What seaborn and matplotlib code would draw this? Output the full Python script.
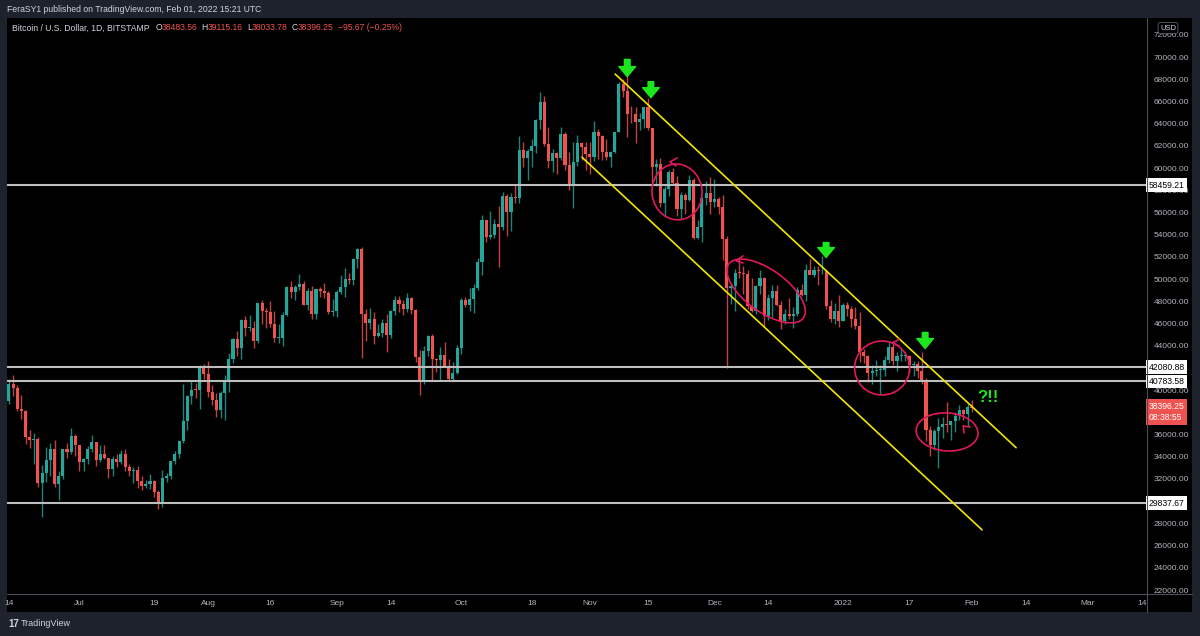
import numpy as np
import pandas as pd
import matplotlib
matplotlib.use("Agg")
import matplotlib.pyplot as plt
import matplotlib.dates as mdates
import matplotlib.transforms as mtransforms
from matplotlib.patches import Ellipse, Rectangle
from matplotlib.lines import Line2D
import seaborn as sns

# ---------------- data (BTC/USD daily, Bitstamp) ----------------
start_date = "2021-06-13"
opens = [
    35520, 39020, 40530, 40170, 38340, 38090, 35820, 35490, 35600, 31640, 32510, 33680, 34660, 31580, 32240, 34690, 34450, 35890,
    35040, 33520, 33800, 34690, 35290, 33690, 34230, 33860, 32880, 33800, 33510, 34260, 33100, 32730, 32820, 31780, 31400, 31520, 31780, 30830, 29790, 32130, 32290, 33600, 34270, 35390, 37250, 39480, 40010, 40000, 42210,
    41490, 39850, 39150, 38190, 39740, 40870, 42840, 44600, 43800, 46300, 45580, 45580, 44420, 47830, 47100, 47030, 45950, 44690, 44740, 46750, 49330, 48880, 49300, 49540, 47700, 48980, 46850, 49080, 48910, 48800, 47020,
    47140, 48820, 49300, 50000, 49940, 51790, 52700, 46860, 46070, 46400, 44850, 45150, 46050, 44950, 47110, 48150, 47750, 47300, 48290, 47250, 43000, 40700, 43550, 44880, 42820, 42700, 43190, 42170, 41030, 41520,
    43800, 48150, 47680, 48230, 49250, 51510, 55340, 53800, 53950, 54960, 54660, 57480, 56020, 57390, 57350, 61680, 60880, 61520, 62040, 64300, 66000, 62210, 60690, 61340, 60880, 63080, 60330, 58450, 60600, 62250, 61880,
    61320, 61000, 63250, 62940, 61450, 61000, 61500, 63300, 67550, 66950, 64900, 64850, 64150, 64400, 65500, 63600, 60100, 60350, 56900, 58100, 59700, 58700, 56300, 57550, 57150, 58950, 53750, 54700, 57300, 57800,
    56950, 57200, 56500, 53600, 49200, 49400, 50600, 50550, 50500, 47550, 47150, 49400, 50100, 46700, 48350, 48900, 47650, 46200, 46850, 46700, 46900, 49000, 48600, 50800, 50400, 50800, 50700, 50700, 47550, 46450, 47100,
    46200, 47700, 47300, 46450, 45800, 43450, 43100, 41550, 41700, 41850, 41850, 42750, 43900, 42600, 43100, 43100, 43100, 42250, 42400, 41700, 40700, 36450, 35050, 36300, 36700, 36950, 36850, 37200, 37700, 38200, 37900,
    38483.56,
]
highs = [
    39380, 41000, 41330, 40500, 39560, 38200, 36440, 36110, 35750, 33300, 34880, 35200, 35480, 32690, 34700, 35280, 36600, 36070,
    35040, 33930, 34940, 35960, 35300, 35100, 35070, 33910, 34080, 34260, 34600, 34670, 33330, 33100, 33180, 32250, 31940, 32430, 31890, 31050, 32830, 32570, 33640, 34500, 35410, 40550, 39530, 40900, 40650, 42300, 42400,
    42600, 40450, 39760, 39970, 41400, 43390, 44700, 45300, 46450, 46680, 46780, 46230, 47880, 48150, 47360, 48050, 47150, 46000, 47000, 49360, 49800, 49490, 50500, 49860, 49250, 49360, 49160, 49310, 49640, 48900, 48250,
    49000, 50400, 51050, 50550, 51880, 52800, 52920, 47350, 47400, 47030, 45990, 46450, 46880, 47250, 48480, 48500, 48160, 48800, 48370, 47350, 43620, 44000, 44950, 45100, 42940, 43900, 44330, 42780, 42580, 44100,
    48300, 48370, 49250, 49530, 51870, 55750, 55340, 56100, 55450, 56550, 57840, 57650, 57760, 58530, 62900, 62350, 61720, 62600, 64450, 66900, 66500, 63730, 61740, 61440, 63720, 63300, 61480, 62400, 62950, 62330, 62400,
    62380, 64250, 63490, 62950, 62600, 61550, 63300, 67750, 68000, 68900, 65600, 65480, 64950, 65550, 66350, 63600, 60800, 60950, 58400, 59850, 60000, 59300, 57850, 57800, 59400, 59150, 55300, 57400, 58850, 59200,
    59050, 57400, 57600, 53850, 49700, 50950, 51950, 51200, 50800, 50100, 49500, 50800, 50200, 48700, 49500, 49450, 48000, 47350, 48350, 47500, 49300, 49550, 51350, 51850, 51150, 51200, 52050, 50700, 48100, 47900, 48550,
    47900, 47950, 47550, 47500, 47050, 43750, 43150, 42300, 42750, 42250, 43100, 44350, 44450, 43450, 43800, 43450, 43200, 42650, 42600, 43450, 41100, 36800, 36500, 37500, 37550, 38900, 37250, 38000, 38700, 38350, 38750,
    39115.16,
]
lows = [
    34760, 38750, 39510, 38120, 37420, 35130, 34830, 33360, 31300, 28600, 31720, 32300, 31280, 30150, 32030, 33900, 34220, 34060,
    32710, 32720, 33330, 34450, 33170, 33530, 33790, 32100, 32260, 33040, 33330, 32680, 32240, 31600, 31150, 31040, 31170, 31110, 30420, 29300, 29480, 31720, 31980, 33330, 33870, 35260, 36420, 38790, 39270, 38340, 41020,
    39420, 38690, 37620, 37500, 37350, 39880, 42450, 43100, 42830, 44900, 45350, 43800, 44250, 45970, 45600, 45700, 44380, 44250, 43970, 46650, 48300, 48100, 49050, 47670, 47200, 46400, 46380, 48400, 48340, 46900, 46710,
    46560, 48630, 48400, 49550, 49500, 50970, 42900, 44420, 45540, 44200, 44750, 44760, 43420, 44700, 46770, 47060, 46800, 47080, 46860, 42500, 39600, 40560, 43100, 40800, 41670, 40800, 42130, 40950, 40800, 41420,
    43300, 47450, 47130, 46950, 49070, 50390, 53380, 53640, 53700, 51100, 54430, 53880, 54300, 56870, 56850, 60150, 58980, 60100, 61400, 63500, 62000, 60000, 59700, 59510, 60700, 59870, 58000, 56450, 60200, 60730, 59800,
    59450, 60650, 60850, 60700, 60740, 60100, 61350, 63250, 66380, 62800, 64100, 62300, 63400, 63600, 63450, 58600, 58400, 56500, 55600, 57450, 58500, 55650, 55400, 55900, 57000, 53600, 53650, 53350, 56700, 55900,
    56500, 55850, 51700, 42000, 47800, 47100, 50100, 48700, 47350, 47000, 46850, 48650, 45700, 46300, 46550, 47550, 45500, 45950, 46450, 45600, 46650, 48450, 48050, 50450, 50200, 49500, 50450, 47350, 46100, 46000, 45700,
    46200, 46700, 45700, 45500, 42550, 42450, 40700, 40550, 41250, 39700, 41300, 42450, 42300, 41750, 42600, 42600, 41550, 41250, 41100, 40600, 35450, 34050, 34650, 32950, 35700, 36250, 35500, 36200, 37350, 37350, 36650,
    38033.78,
]
closes = [
    39020, 40530, 40170, 38340, 38090, 35820, 35490, 35600, 31640, 32510, 33680, 34660, 31580, 32240, 34690, 34450, 35890, 35040,
    33520, 33800, 34690, 35290, 33690, 34230, 33860, 32880, 33800, 33510, 34260, 33100, 32730, 32820, 31780, 31400, 31520, 31780, 30830, 29790, 32130, 32290, 33600, 34270, 35390, 37250, 39480, 40010, 40000, 42210, 41490,
    39850, 39150, 38190, 39740, 40870, 42840, 44600, 43800, 46300, 45580, 45580, 44420, 47830, 47100, 47030, 45950, 44690, 44740, 46750, 49330, 48880, 49300, 49540, 47700, 48980, 46850, 49080, 48910, 48800, 47020, 47140,
    48820, 49300, 50000, 49940, 51790, 52700, 46860, 46070, 46400, 44850, 45150, 46050, 44950, 47110, 48150, 47750, 47300, 48290, 47250, 43000, 40700, 43550, 44880, 42820, 42700, 43190, 42170, 41030, 41520, 43800,
    48150, 47680, 48230, 49250, 51510, 55340, 53800, 53950, 54960, 54660, 57480, 56020, 57390, 57350, 61680, 60880, 61520, 62040, 64300, 66000, 62210, 60690, 61340, 60880, 63080, 60330, 58450, 60600, 62250, 61880, 61320,
    61000, 63250, 62940, 61450, 61000, 61500, 63300, 67550, 66950, 64900, 64850, 64150, 64400, 65500, 63600, 60100, 60350, 56900, 58100, 59700, 58700, 56300, 57550, 57150, 58950, 53750, 54700, 57300, 57800, 56950,
    57200, 56500, 53600, 49200, 49400, 50600, 50550, 50500, 47550, 47150, 49400, 50100, 46700, 48350, 48900, 47650, 46200, 46850, 46700, 46900, 49000, 48600, 50800, 50400, 50800, 50700, 50700, 47550, 46450, 47100, 46200,
    47700, 47300, 46450, 45800, 43450, 43100, 41550, 41700, 41850, 41850, 42750, 43900, 42600, 43100, 43100, 43100, 42250, 42400, 41700, 40700, 36450, 35050, 36300, 36700, 36950, 36850, 37200, 37700, 38200, 37900, 38480,
    38396.25,
]

level_prices = [58459.21, 42080.88, 40783.58, 29837.67]
last_price = 38396.25
countdown = "08:38:55"

upper_channel_dates = ["2021-11-07 02:00", "2022-02-11 17:00"]
upper_channel_prices = [68480, 34820]
lower_channel_dates = ["2021-10-30 02:00", "2022-02-03 12:00"]
lower_channel_prices = [60990, 27420]

arrow_dates = ["2021-11-10 00:00", "2021-11-15 17:00", "2021-12-27 22:00", "2022-01-20 19:00"]
arrow_tops = [69800, 67800, 53300, 45200]
arrow_tips = [68250, 66350, 51950, 43750]

circle_dates = ["2021-11-22 00:00", "2021-12-13 11:00", "2022-01-10 10:00", "2022-01-26 02:00"]
circle_prices = [57860, 48940, 42000, 36240]

note_date = "2022-02-04 22:00"
note_price = 39300
note_text = "?!!"

tick_dates = ["2021-06-14", "2021-07-01", "2021-07-19", "2021-08-01", "2021-08-16", "2021-09-01",
              "2021-09-14", "2021-10-01", "2021-10-18", "2021-11-01", "2021-11-15", "2021-12-01",
              "2021-12-14", "2022-01-01", "2022-01-17", "2022-02-01", "2022-02-14", "2022-03-01", "2022-03-14"]
tick_labels = ["14", "Jul", "19", "Aug", "16", "Sep", "14", "Oct", "18", "Nov", "15", "Dec",
               "14", "2022", "17", "Feb", "14", "Mar", "14"]
price_ticks = list(range(22000, 72001, 2000))
# price-scale ticks hidden behind the level / last-price labels (as on the reference)
covered_ticks = [30000, 38000, 42000]

view_start = "2021-06-13 13:00"
view_end = "2022-03-15 06:00"
price_range = (21640, 73530)

# ---------------- styling ----------------
UP = "#26a69a"
DOWN = "#ef5350"
BG = "#1e222d"
TXT = "#d1d4dc"
TICK = "#b2b5be"

sns.set_theme(style="dark", rc={"axes.facecolor": "black", "figure.facecolor": BG})
plt.rcParams["font.family"] = ["Liberation Sans", "DejaVu Sans"]

W, H = 1200, 636
fig = plt.figure(figsize=(W / 100, H / 100), dpi=100)
fig.patch.set_facecolor(BG)

def fx(px):
    return px / W

def fy(py):
    return 1 - py / H

# black chart panel
fig.add_artist(Rectangle((fx(7), fy(612)), fx(1192) - fx(7), fy(18) - fy(612),
                         transform=fig.transFigure, facecolor="black", edgecolor="none", zorder=0))

ax = fig.add_axes([fx(7), fy(594), fx(1147) - fx(7), fy(18) - fy(594)])
ax.set_facecolor("black")
for s in ax.spines.values():
    s.set_visible(False)
ax.grid(False)

df = pd.DataFrame({"date": pd.date_range(start_date, periods=len(closes), freq="D"),
                   "open": opens, "high": highs, "low": lows, "close": closes})
x = mdates.date2num(df["date"])
up = df["close"] >= df["open"]
cols = np.where(up, UP, DOWN)
ax.vlines(x, df["low"], df["high"], colors=cols, lw=1.0, alpha=0.8, zorder=2)
body_bottom = np.minimum(df["open"], df["close"])
body_h = np.maximum(np.abs(df["close"] - df["open"]), 70)
ax.bar(x, body_h, bottom=body_bottom, width=0.74, color=cols, linewidth=0, zorder=3)

# horizontal levels
for lv in level_prices:
    ax.axhline(lv, color="#bdbdbd", lw=1.5, zorder=4)

# channel lines (seaborn)
ch = pd.DataFrame({
    "date": pd.to_datetime(upper_channel_dates + lower_channel_dates),
    "price": upper_channel_prices + lower_channel_prices,
    "line": ["upper", "upper", "lower", "lower"],
})
sns.lineplot(data=ch, x="date", y="price", units="line", estimator=None, color="#f2e600",
             lw=1.2, ax=ax, legend=False, zorder=5)

# green arrows
for d, top, tip in zip(arrow_dates, arrow_tops, arrow_tips):
    xd = mdates.date2num(pd.Timestamp(d))
    ax.annotate("", xy=(xd, tip), xytext=(xd, top),
                arrowprops=dict(arrowstyle="simple,head_width=1.0,head_length=0.6,tail_width=0.34",
                                color="#1ee61e", shrinkA=0, shrinkB=0, mutation_scale=12),
                zorder=7, annotation_clip=False)

# pink hand-drawn ellipses (sizes in pixels)
PINK = "#e0185e"
ell_shapes = [(50, 56, 8), (92, 42, -36), (55, 54, 0), (62, 38, -4)]
hooks = [
    [(-7 + 7, 30 + 4), (-7, 30), (-7 + 6, 30 - 4)],
    [(-30 + 7, 30 + 5), (-30, 30), (-30 + 7, 30 - 2)],
    [(11 + 6, 25 + 4), (11, 25), (11 + 6, 25 - 3)],
    [(16 + 1, 6 - 7), (16, 6), (16 + 7, 6 - 1)],
]
for d, p, (w, h, a), hk in zip(circle_dates, circle_prices, ell_shapes, hooks):
    xd = mdates.date2num(pd.Timestamp(d))
    tr = fig.dpi_scale_trans + mtransforms.ScaledTranslation(xd, p, ax.transData)
    ax.add_artist(Ellipse((0, 0), w / 100, h / 100, angle=a, transform=tr, fill=False,
                          edgecolor=PINK, lw=1.2, zorder=6))
    hx = [q[0] / 100 for q in hk]
    hy = [q[1] / 100 for q in hk]
    ax.add_artist(Line2D(hx, hy, transform=tr, color=PINK, lw=1.2, zorder=6))

ax.text(mdates.date2num(pd.Timestamp(note_date)), note_price, note_text, color="#1ee61e",
        fontsize=12, fontweight="bold", ha="center", va="center", zorder=7)

# axes limits / ticks
ax.set_xlim(mdates.date2num(pd.Timestamp(view_start)), mdates.date2num(pd.Timestamp(view_end)))
ax.set_ylim(*price_range)
ax.set_xticks(mdates.date2num(pd.to_datetime(tick_dates)))
ax.set_xticklabels(tick_labels)
ax.set_yticks(price_ticks)
ax.set_yticklabels(["" if v in covered_ticks else f"{v:.2f}" for v in price_ticks])
ax.yaxis.tick_right()
ax.tick_params(axis="y", length=0, pad=5, labelsize=6, labelcolor=TICK)
ax.tick_params(axis="x", length=0, pad=4, labelsize=6, labelcolor=TICK)
ax.set_xlabel("")
ax.set_ylabel("")

# level labels on the price scale
ytr = ax.get_yaxis_transform()
for lv in level_prices:
    ax.text(1.0015, lv, f"{lv:.2f}", transform=ytr, ha="left", va="center", fontsize=6.2,
            color="black", zorder=10, clip_on=False,
            bbox=dict(boxstyle="square,pad=0.28", facecolor="white", edgecolor="none"))
ax.annotate(f"{last_price:.2f}\n{countdown}", xy=(1.0015, last_price), xycoords=ytr,
            xytext=(0, 6), textcoords="offset pixels", ha="left", va="top", fontsize=6.2,
            color="white", linespacing=1.25, annotation_clip=False, zorder=10,
            bbox=dict(boxstyle="square,pad=0.32", facecolor=DOWN, edgecolor="none"))

# separators
fig.add_artist(Line2D([fx(1147), fx(1147)], [fy(18), fy(612)], transform=fig.transFigure,
                      color="#4a4d57", lw=0.8))
fig.add_artist(Line2D([fx(7), fx(1192)], [fy(594), fy(594)], transform=fig.transFigure,
                      color="#4a4d57", lw=0.8))

fig.text(fx(1168), fy(28), "USD", ha="center", va="center", fontsize=5.5, color=TXT,
         bbox=dict(boxstyle="round,pad=0.25", facecolor="black", edgecolor="#5a5d68", lw=0.6))

# header
fig.text(fx(7), fy(10), "FeraSY1 published on TradingView.com, Feb 01, 2022 15:21 UTC",
         ha="left", va="center", fontsize=6.2, color=TXT)

parts = [("Bitcoin / U.S. Dollar, 1D, BITSTAMP", TXT, 0), ("O", TXT, 4), ("38483.56", DOWN, 0),
         ("H", TXT, 3), ("39115.16", DOWN, 0), ("L", TXT, 3), ("38033.78", DOWN, 0),
         ("C", TXT, 3), ("38396.25", DOWN, 0), ("\u221295.67 (\u22120.25%)", DOWN, 3)]
prev = fig.text(fx(12), fy(28), parts[0][0], ha="left", va="center", fontsize=6.2, color=parts[0][1])
for s, c, g in parts[1:]:
    prev = ax.annotate(s, xy=(1, 0.5), xycoords=prev, xytext=(g, 0), textcoords="offset points",
                       ha="left", va="center", fontsize=6.2, color=c, annotation_clip=False)

# footer logo
fig.text(fx(8), fy(624), "17", ha="left", va="center", fontsize=7, fontweight="bold", color=TXT)
fig.text(fx(21), fy(624), "TradingView", ha="left", va="center", fontsize=6.5, color=TXT)

fig.savefig("out.png", dpi=100, facecolor=BG)
